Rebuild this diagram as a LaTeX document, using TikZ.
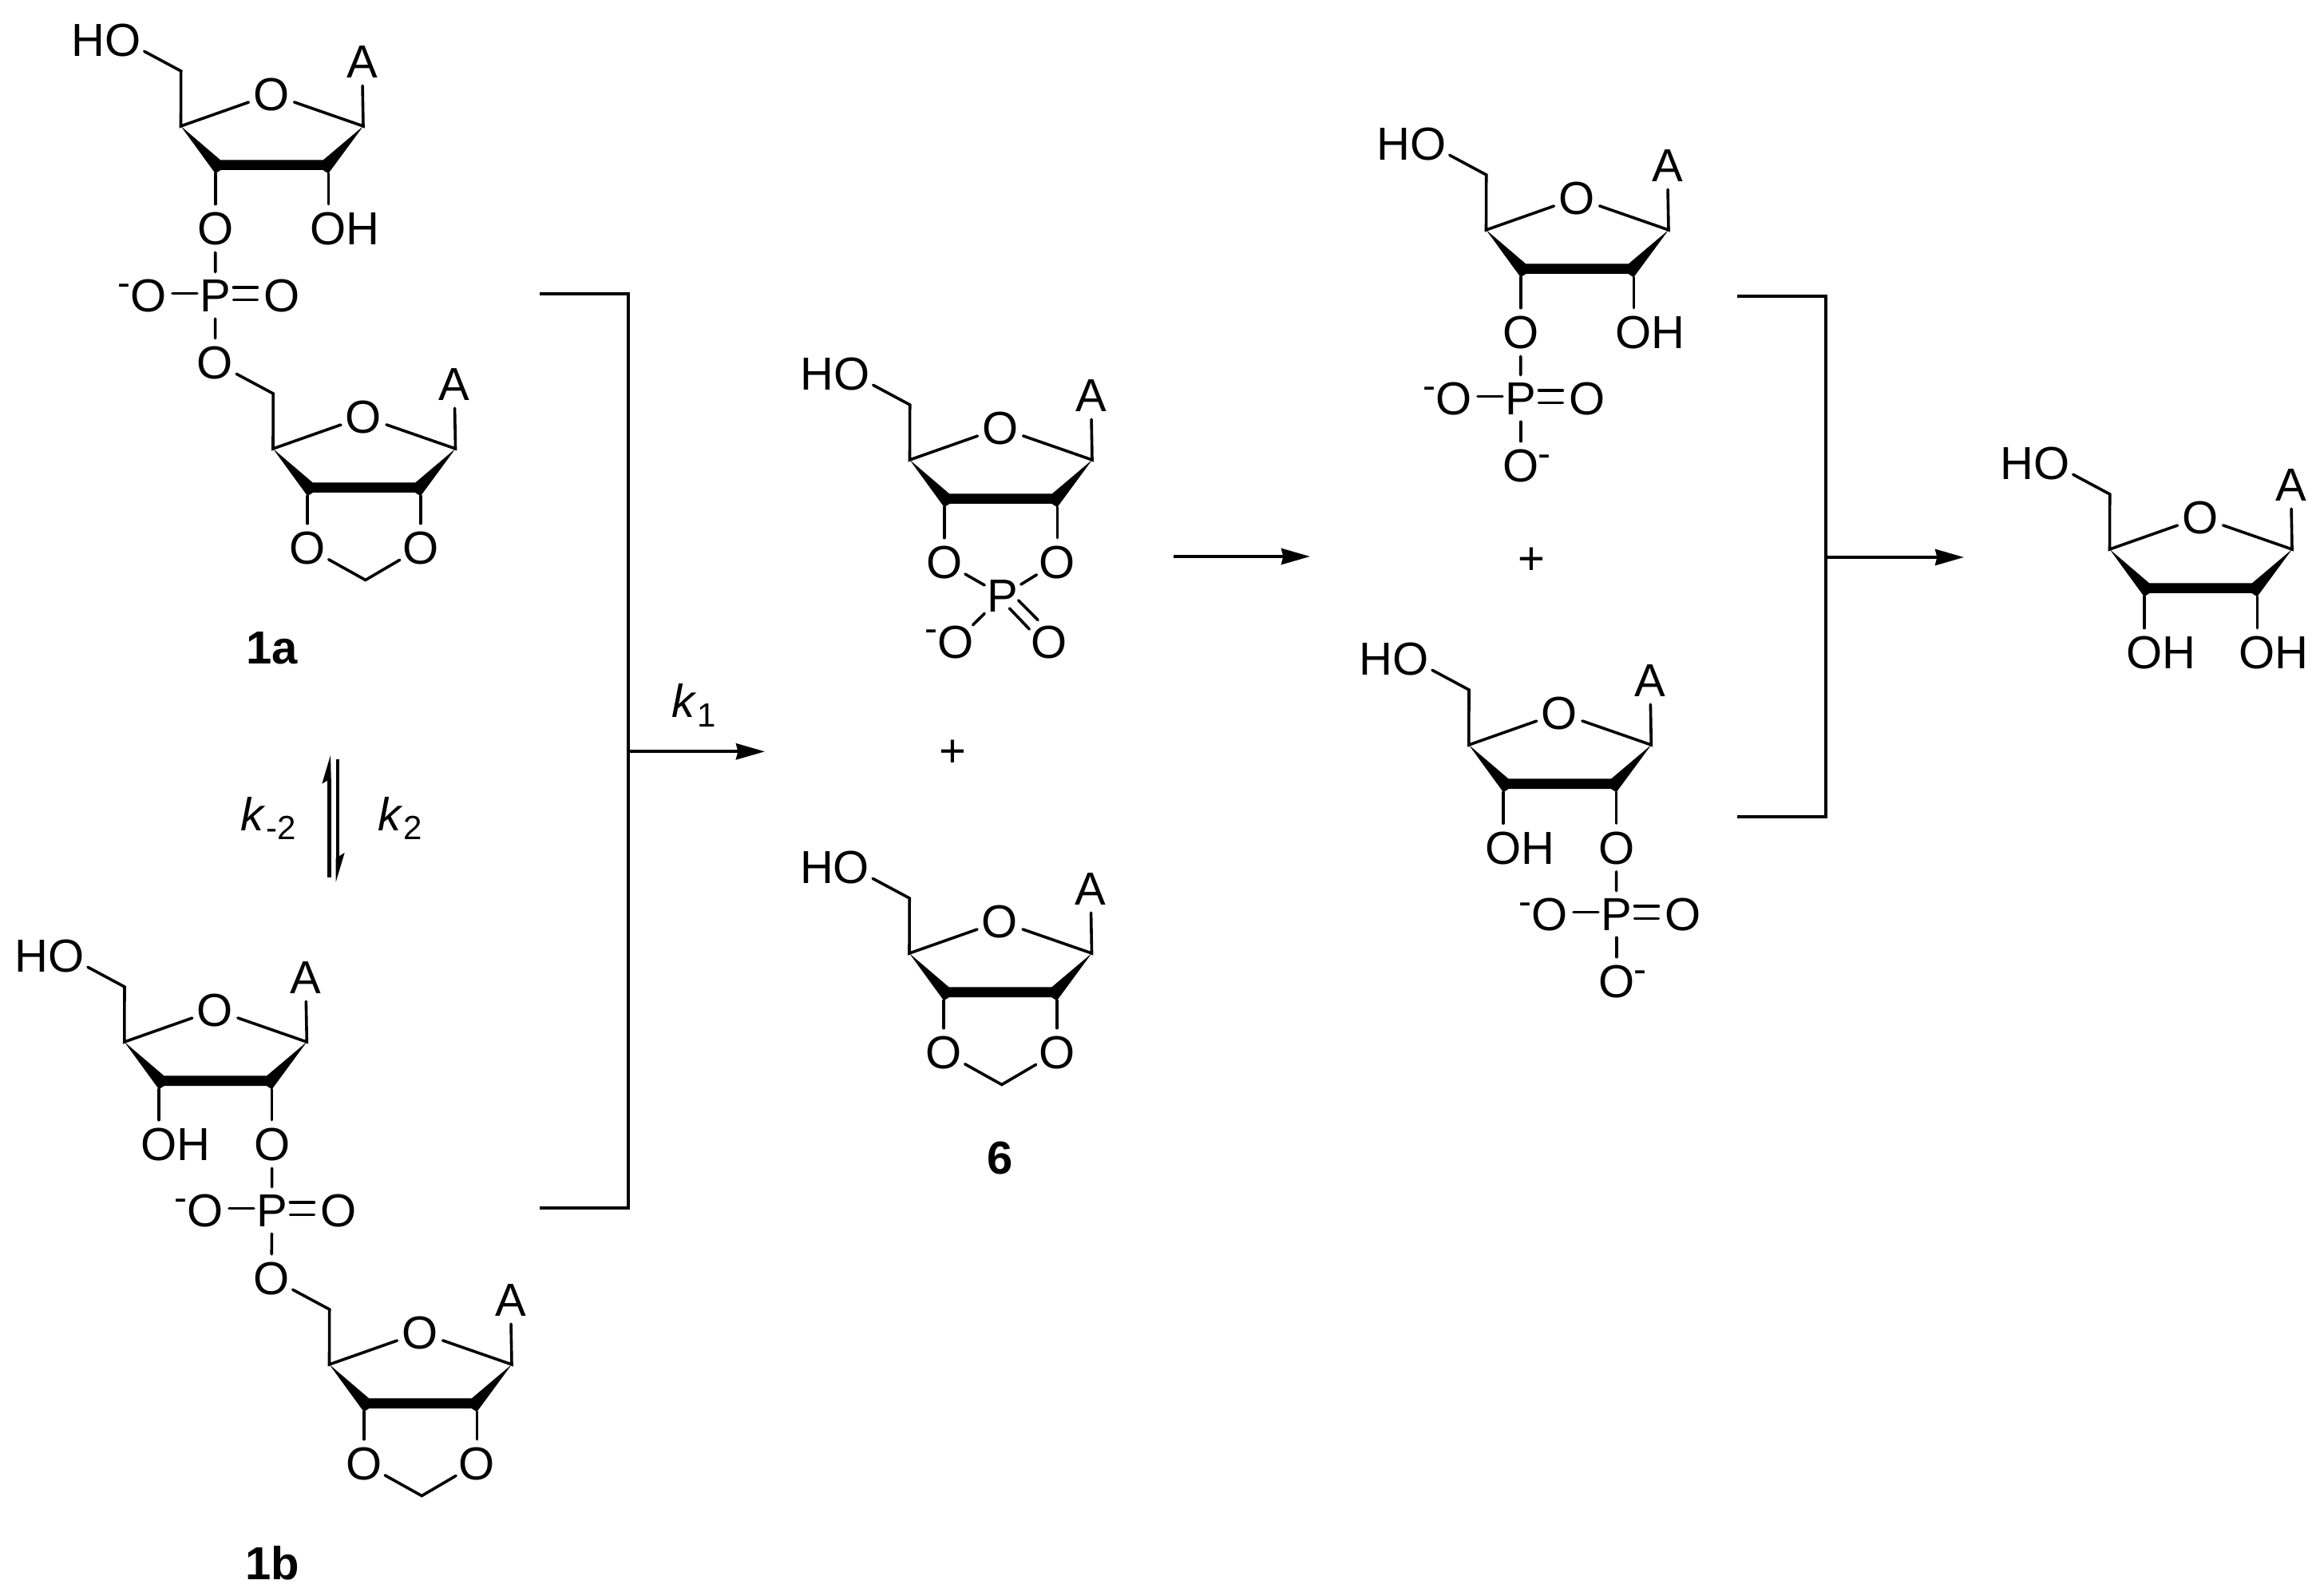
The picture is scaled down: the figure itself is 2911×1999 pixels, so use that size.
\documentclass[tikz,border=0pt]{standalone}
\usepackage{fontspec}
\setmainfont{Liberation Sans}
\usetikzlibrary{arrows.meta}
\newcommand\chemfs{\fontsize{14.5}{14.5}\selectfont}
\newcommand\subfs{\fontsize{10.5}{10.5}\selectfont}
\newcommand\atm[1]{\makebox[0pt][c]{#1}}
\newcommand\labHO{\llap{H}O}
\newcommand\labOH{O\rlap{H}}
\tikzset{
  x=0.25pt,y=-0.25pt,
  atom/.style={circle,inner sep=0pt,minimum size=14.75pt,font=\chemfs,text height=10.4pt,text depth=0pt},
  patom/.style={rectangle,inner sep=0pt,minimum width=11pt,minimum height=14.25pt,font=\chemfs,text height=10.4pt,text depth=0pt},
  charge/.style={inner sep=0pt,font=\fontsize{12}{12}\selectfont,text height=6.65pt,text depth=0pt},
  caption/.style={inner sep=0pt,font=\bfseries\chemfs,text height=10.4pt,text depth=0pt},
  plain/.style={inner sep=0pt,font=\chemfs},
  bond/.style={line width=0.9pt,line cap=round,line join=miter},
  rail/.style={line width=1pt},
  react/.style={line width=1pt,-{Stealth[length=9pt,width=5pt,inset=0.6pt]}},
}
% #1 name, #2 x, #3 y, #4 C5 substituent, #5 C3 substituent, #6 C2 substituent, #7 row offset
\newcommand\furanose[7]{%
 \begin{scope}[shift={(#2,#3)},name prefix=#1-]
  \node[atom] (O) at (0,0) {\atm{O}};
  \node[atom] (A) at (113.5,-41) {\atm{A}};
  \node[atom] (R5) at (-186,-68) {\atm{#4}};
  \node[atom] (R3) at (-70.3,#7) {\atm{#5}};
  \node[atom] (R2) at (71.3,#7) {\atm{#6}};
  \coordinate (C5) at (-113.3,-29);
  \coordinate (C4) at (-113.5,40);
  \coordinate (C1) at (115,40);
  \coordinate (C3) at (-70.3,99.3);
  \coordinate (C2) at (71.3,99.3);
  \fill (C4) -- (-64,82.3) -- (65,82.3) -- (C1) -- (C2) -- (64.5,95) -- (-63.5,95) -- (C3) -- cycle;
  \draw[bond] (R5) -- (C5) -- (C4) -- (O);
  \draw[bond] (O) -- (C1) -- (A);
  \draw[bond] (C3) -- (R3);
  \draw[bond] (C2) -- (R2);
 \end{scope}}
\newcommand\phosphate[3]{%
 \begin{scope}[shift={(#2,#3)},name prefix=#1-]
  \node[patom] (P) at (0,0) {\atm{P}};
  \node[atom] (OL) at (-84,0) {\atm{O}};
  \node[atom] (OD) at (83,0) {\atm{O}};
  \node[charge] (QL) at (-114.5,-13) {-};
  \draw[bond] ([yshift=0.6pt]OL.east) -- ([yshift=0.6pt]P.west);
  \draw[bond] ([yshift=2.5pt]P.east) -- ([yshift=2.5pt]OD.west);
  \draw[bond] ([yshift=-1.4pt]P.east) -- ([yshift=-1.4pt]OD.west);
 \end{scope}}
\newcommand\acetal[1]{%
  \coordinate (#1-M) at ([shift={(2.3,204.5)}]#1-O.center);
  \draw[bond] (#1-R3) -- (#1-M) -- (#1-R2);}
\begin{document}
\begin{tikzpicture}
\useasboundingbox (0,0) rectangle (2911,1999);

% 1a
\furanose{a}{340}{118}{\labHO}{O}{\labOH}{168}
\phosphate{pa}{269.7}{370}
\furanose{b}{455.5}{522}{O}{O}{O}{164}
\acetal{b}
\draw[bond] (a-R3) -- (pa-P);
\draw[bond] (pa-P) -- (b-R5);
\node[caption] (la) at (341,811) {1a};

% equilibrium
\node[plain,anchor=base west] (km) at (301,1040) {\textit{k}\raisebox{-2.9pt}{\subfs -2}};
\node[plain,anchor=base west] (kp) at (473,1040) {\textit{k}\raisebox{-2.9pt}{\subfs 2}};
\coordinate (eqa) at (412.3,1098.7);
\coordinate (eqb) at (412.3,975);
\coordinate (eqc) at (423,951);
\coordinate (eqd) at (423,1075);
\draw[line width=1.1pt] (eqa) -- (eqb);
\draw[line width=1.1pt] (eqc) -- (eqd);
\fill (414,946) -- (403.3,981.7) -- (414.7,975) -- cycle;
\fill (420.7,1104.7) -- (431.7,1068) -- (420.7,1075) -- cycle;

% 1b
\furanose{c}{269.3}{1265}{\labHO}{\labOH}{O}{168}
\phosphate{pb}{340.7}{1516}
\furanose{d}{526}{1669}{O}{O}{O}{164}
\acetal{d}
\draw[bond] (c-R2) -- (pb-P);
\draw[bond] (pb-P) -- (d-R5);
\node[caption] (lb) at (341,1958) {1b};

% first bracket
\coordinate (ba) at (676,368);
\coordinate (bb) at (787,368);
\coordinate (bc) at (787,1513);
\coordinate (bd) at (676,1513);
\coordinate (be) at (787,941.3);
\coordinate (bf) at (958,941.3);
\draw[rail] (ba) -- (bb) -- (bc) -- (bd);
\draw[react] (be) -- (bf);
\node[plain,anchor=base west] (k1) at (841,898) {\textit{k}\raisebox{-3.2pt}{\subfs 1}};

% 6 upper (cyclic phosphate)
\furanose{e}{1253}{536}{\labHO}{O}{O}{168}
\node[patom] (eP) at (1256,746) {\atm{P}};
\node[atom] (eOL) at (1197,804) {\atm{O}};
\node[atom] (eOD) at (1314,804) {\atm{O}};
\node[charge] (eQ) at (1166.5,790) {-};
\draw[bond] (e-R3) -- (eP);
\draw[bond] (e-R2) -- (eP);
\draw[bond] (eP) -- (eOL);
\draw[bond] ([shift={(19.6,6)}]eP.center) -- ([shift={(-14,-27.5)}]eOD.center);
\draw[bond] ([shift={(8.5,16)}]eP.center) -- ([shift={(-24.7,-16)}]eOD.center);
\node[plain,anchor=base] (plusa) at (1193,960) {+};

% 6 lower
\furanose{f}{1252.5}{1154}{\labHO}{O}{O}{164}
\acetal{f}
\node[caption] (lc) at (1253,1450) {6};

% middle arrow
\coordinate (ma) at (1469.6,697);
\coordinate (mb) at (1641,697);
\draw[react] (ma) -- (mb);

% right upper
\furanose{g}{1975}{248}{\labHO}{O}{\labOH}{168}
\phosphate{pg}{1904.7}{499}
\node[atom] (gOB) at (1904.7,583) {\atm{O}};
\node[charge] (gQ) at (1934.7,571) {-};
\draw[bond] (g-R3) -- (pg-P);
\draw[bond] (pg-P) -- (gOB);
\node[plain,anchor=base] (plusb) at (1918,720) {+};

% right lower
\furanose{h}{1953.3}{893}{\labHO}{\labOH}{O}{168.5}
\phosphate{ph}{2024.7}{1145}
\node[atom] (hOB) at (2024.7,1229) {\atm{O}};
\node[charge] (hQ) at (2054.7,1217) {-};
\draw[bond] (h-R2) -- (ph-P);
\draw[bond] (ph-P) -- (hOB);

% second bracket
\coordinate (ca) at (2176,371);
\coordinate (cb) at (2287,371);
\coordinate (cc) at (2287,1023);
\coordinate (cd) at (2176,1023);
\coordinate (ce) at (2287,698);
\coordinate (cf) at (2460,698);
\draw[rail] (ca) -- (cb) -- (cc) -- (cd);
\draw[react] (ce) -- (cf);

% product
\furanose{i}{2756}{648}{\labHO}{\labOH}{\labOH}{169}
\end{tikzpicture}
\end{document}
